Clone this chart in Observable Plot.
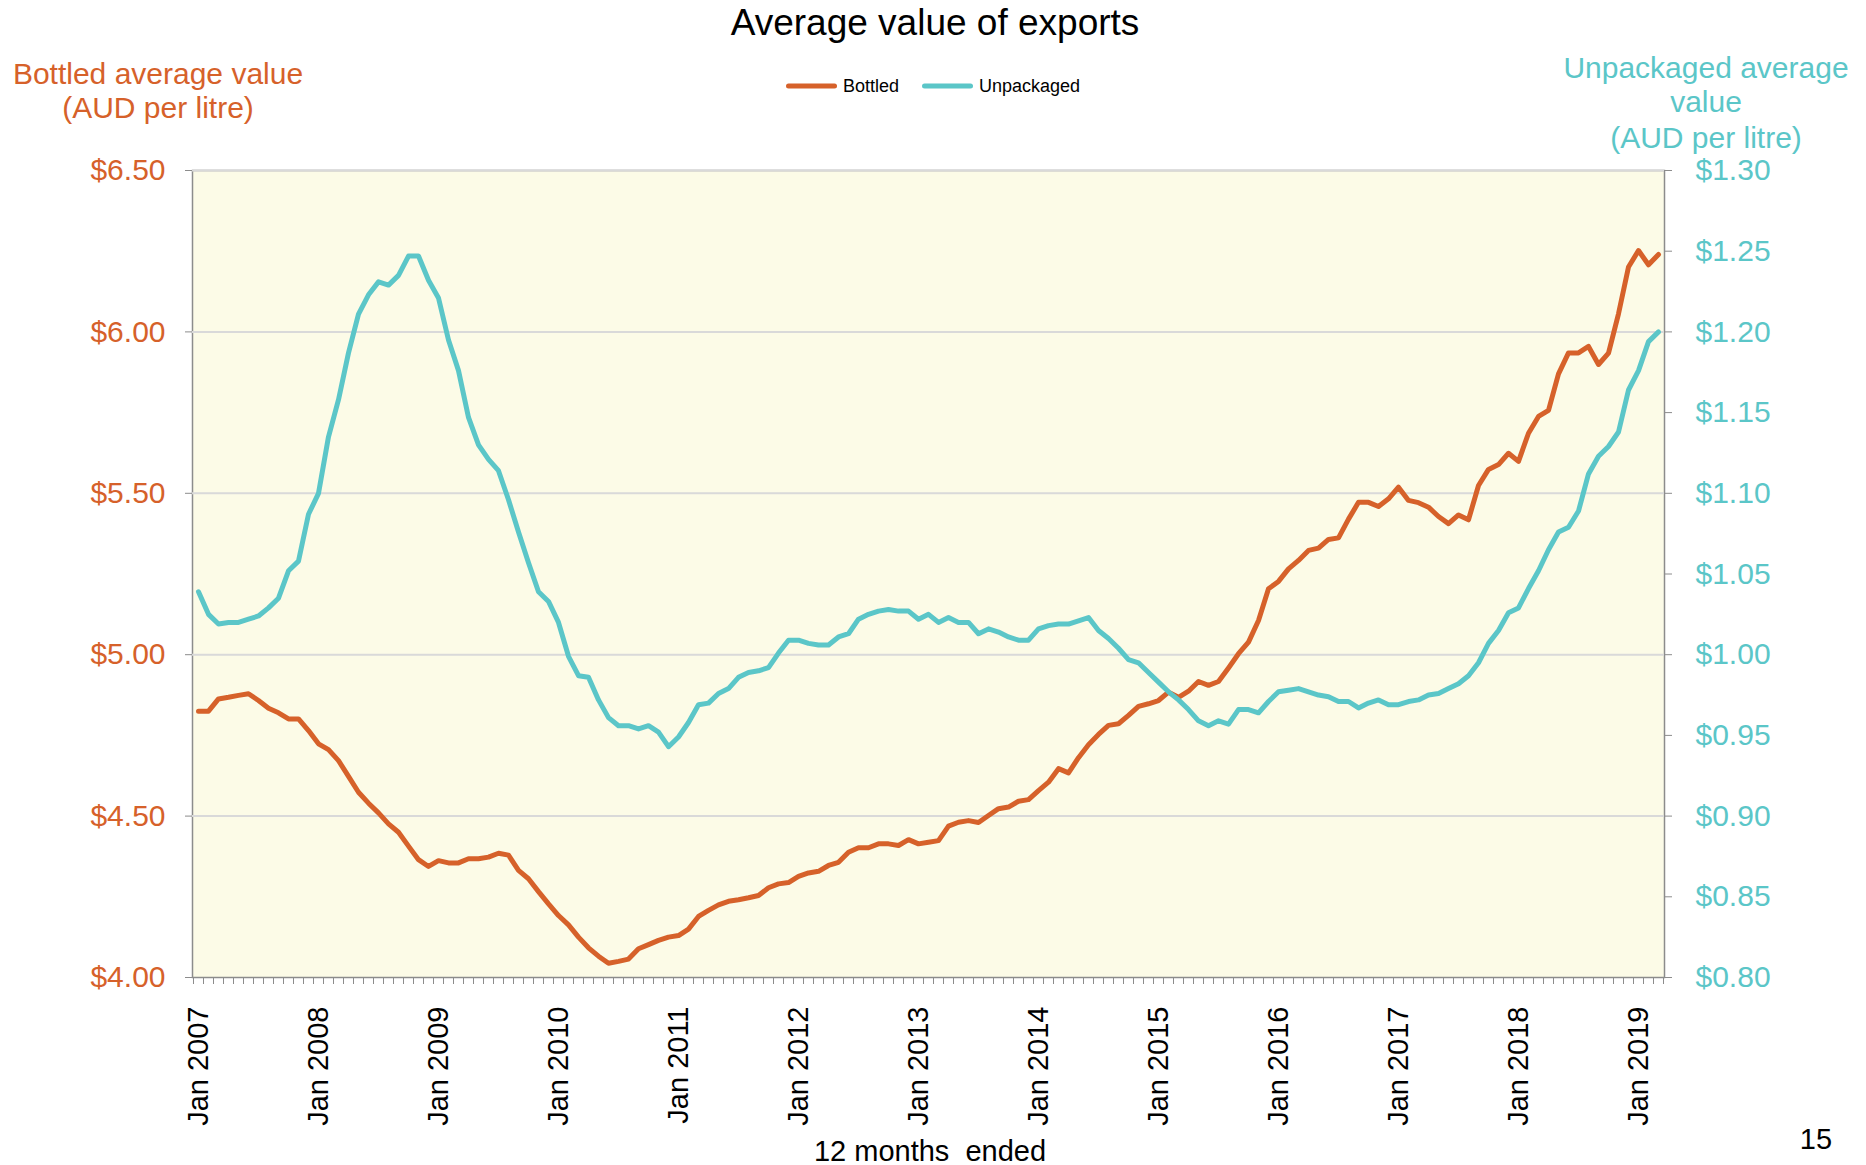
<!DOCTYPE html>
<html><head><meta charset="utf-8">
<script src="https://cdn.jsdelivr.net/npm/d3@7"></script>
<script src="https://cdn.jsdelivr.net/npm/@observablehq/plot@0.6"></script>
<style>
html,body{margin:0;padding:0;background:#fff;}
#page{position:relative;width:1866px;height:1165px;overflow:hidden;font-family:"Liberation Sans",Arial,sans-serif;}
.layer{position:absolute;left:0;top:0;}
.t{position:absolute;transform:translate(-50%,-50%);white-space:pre;line-height:1;}
.leg{position:absolute;display:flex;align-items:center;font-size:18px;color:#000;transform:translateY(-50%);}
.sw{display:inline-block;width:51px;height:5px;border-radius:3px;margin-right:6px;}
</style></head><body><div id="page"></div>
<script>
// ---- data (12 months ended, Jan 2007 – Mar 2019) ----
const monthNames = ["Jan","Feb","Mar","Apr","May","Jun","Jul","Aug","Sep","Oct","Nov","Dec"];
const firstYear = 2007, monthCount = 147;
const months = d3.range(monthCount).map(i => monthNames[i % 12] + " " + (firstYear + Math.floor(i / 12)));
const yearTicks = ["Jan 2007","Jan 2008","Jan 2009","Jan 2010","Jan 2011","Jan 2012","Jan 2013","Jan 2014","Jan 2015","Jan 2016","Jan 2017","Jan 2018","Jan 2019"];

// Bottled average value (AUD per litre)
const bottled = [4.825,4.825,4.863,4.868,4.874,4.879,4.858,4.834,4.820,4.801,
 4.801,4.765,4.724,4.706,4.672,4.623,4.574,4.540,4.510,4.476,
 4.450,4.407,4.365,4.344,4.362,4.355,4.355,4.368,4.368,4.373,
 4.385,4.379,4.332,4.306,4.266,4.228,4.192,4.163,4.125,4.092,
 4.066,4.044,4.050,4.057,4.089,4.102,4.115,4.125,4.130,4.150,
 4.189,4.208,4.225,4.236,4.241,4.247,4.254,4.278,4.290,4.294,
 4.313,4.324,4.329,4.347,4.357,4.388,4.402,4.402,4.414,4.414,
 4.409,4.427,4.414,4.419,4.424,4.469,4.481,4.486,4.480,4.502,
 4.523,4.528,4.546,4.551,4.579,4.605,4.647,4.634,4.681,4.721,
 4.753,4.781,4.786,4.812,4.840,4.848,4.858,4.884,4.868,4.887,
 4.917,4.905,4.917,4.959,5.003,5.039,5.106,5.204,5.227,5.266,
 5.292,5.323,5.330,5.357,5.362,5.420,5.472,5.472,5.459,5.483,
 5.519,5.478,5.471,5.457,5.428,5.406,5.433,5.418,5.524,5.574,
 5.589,5.624,5.599,5.686,5.738,5.757,5.870,5.935,5.935,5.955,
 5.899,5.934,6.056,6.201,6.252,6.208,6.240];

// Unpackaged average value (AUD per litre)
const unpackaged = [1.039,1.025,1.019,1.020,1.020,1.022,1.024,1.029,1.035,1.052,
 1.058,1.087,1.100,1.135,1.158,1.187,1.211,1.223,1.231,1.229,
 1.235,1.247,1.247,1.232,1.221,1.195,1.176,1.147,1.130,1.121,
 1.114,1.096,1.076,1.057,1.039,1.033,1.020,0.999,0.987,0.986,
 0.972,0.961,0.956,0.956,0.954,0.956,0.952,0.943,0.949,0.958,
 0.969,0.970,0.976,0.979,0.986,0.989,0.990,0.992,1.001,1.009,
 1.009,1.007,1.006,1.006,1.011,1.013,1.022,1.025,1.027,1.028,
 1.027,1.027,1.022,1.025,1.020,1.023,1.020,1.020,1.013,1.016,
 1.014,1.011,1.009,1.009,1.016,1.018,1.019,1.019,1.021,1.023,
 1.015,1.010,1.004,0.997,0.995,0.989,0.983,0.977,0.972,0.966,
 0.959,0.956,0.959,0.957,0.966,0.966,0.964,0.971,0.977,0.978,
 0.979,0.977,0.975,0.974,0.971,0.971,0.967,0.970,0.972,0.969,
 0.969,0.971,0.972,0.975,0.976,0.979,0.982,0.987,0.995,1.007,
 1.015,1.026,1.029,1.041,1.052,1.065,1.076,1.079,1.089,1.112,
 1.123,1.129,1.138,1.164,1.176,1.194,1.200];

const bottledTicks = [4.0,4.5,5.0,5.5,6.0,6.5];
const bottledGrid = [4.5,5.0,5.5,6.0,6.5];
const unpackagedTicks = [0.80,0.85,0.90,0.95,1.00,1.05,1.10,1.15,1.20,1.25,1.30];

// ---- layout / style ----
const W = 1866, H = 1165, ML = 192, MR = 202, MT = 170, MB = 188;
const ORANGE = "#D6612A", CYAN = "#5BC6C8", GRAY = "#8C8C8C", GRID = "#D9D9D9", BG = "#FCFBE7";
const FONT = "Liberation Sans, Arial, sans-serif";
const step = (W - ML - MR) / months.length;
const data = months.map((m, i) => ({month: m, bottled: bottled[i], unpackaged: unpackaged[i]}));
const money = d => "$" + d.toFixed(2);

const common = {
  width: W, height: H, marginLeft: ML, marginRight: MR, marginTop: MT, marginBottom: MB,
  style: {background: "transparent", fontFamily: FONT, overflow: "visible"},
  x: {type: "point", domain: months, padding: 0.5, axis: null}
};

const chart1 = Plot.plot({
  ...common,
  y: {domain: [4, 6.5], axis: null},
  marks: [
    Plot.frame({fill: BG, stroke: GRAY, strokeWidth: 1.5}),
    Plot.gridY(bottledGrid, {stroke: GRID, strokeOpacity: 1, strokeWidth: 2}),
    Plot.axisY(bottledTicks, {anchor: "left", color: GRAY, tickSize: 7, tickFormat: () => "", label: null}),
    Plot.axisY(bottledTicks, {anchor: "left", color: ORANGE, tickSize: 0, tickPadding: 27, tickFormat: money, fontSize: 30, label: null}),
    Plot.axisX(months, {anchor: "bottom", color: GRAY, tickSize: 7, tickFormat: () => "", dx: step / 2, label: null}),
    Plot.axisX([months[0]], {anchor: "bottom", color: GRAY, tickSize: 7, tickFormat: () => "", dx: -step / 2, label: null}),
    Plot.axisX(yearTicks, {anchor: "bottom", color: "#000", tickSize: 0, tickPadding: 29, tickRotate: -90, fontSize: 29, label: null}),
    Plot.lineY(data, {x: "month", y: "bottled", stroke: ORANGE, strokeWidth: 5, strokeLinejoin: "round", strokeLinecap: "round"})
  ]
});

const chart2 = Plot.plot({
  ...common,
  y: {domain: [0.8, 1.3], axis: null},
  marks: [
    Plot.axisY(unpackagedTicks, {anchor: "right", color: GRAY, tickSize: 7, tickFormat: () => "", label: null}),
    Plot.axisY(unpackagedTicks, {anchor: "right", color: CYAN, tickSize: 0, tickPadding: 31, tickFormat: money, fontSize: 30, label: null}),
    Plot.lineY(data, {x: "month", y: "unpackaged", stroke: CYAN, strokeWidth: 5, strokeLinejoin: "round", strokeLinecap: "round"})
  ]
});

const page = document.getElementById("page");
chart1.classList.add("layer");
chart2.classList.add("layer");
page.appendChild(chart1);
page.appendChild(chart2);

function text(str, x, y, size, color) {
  const d = document.createElement("div");
  d.className = "t";
  d.textContent = str;
  d.style.left = x + "px"; d.style.top = y + "px";
  d.style.fontSize = size + "px"; d.style.color = color;
  page.appendChild(d);
}
text("Average value of exports", 935, 22, 37, "#000");
text("Bottled average value", 158, 74, 30, ORANGE);
text("(AUD per litre)", 158, 108, 30, ORANGE);
text("Unpackaged average", 1706, 68, 30, CYAN);
text("value", 1706, 102, 30, CYAN);
text("(AUD per litre)", 1706, 138, 30, CYAN);
text("12 months  ended", 930, 1151, 29, "#000");
text("15", 1816, 1139, 29, "#000");

function legendItem(label, color, x, y) {
  const d = document.createElement("div");
  d.className = "leg";
  d.style.left = x + "px"; d.style.top = y + "px";
  const s = document.createElement("span");
  s.className = "sw"; s.style.background = color;
  d.appendChild(s);
  d.appendChild(document.createTextNode(label));
  page.appendChild(d);
}
legendItem("Bottled", ORANGE, 786, 86);
legendItem("Unpackaged", CYAN, 922, 86);
</script></body></html>
